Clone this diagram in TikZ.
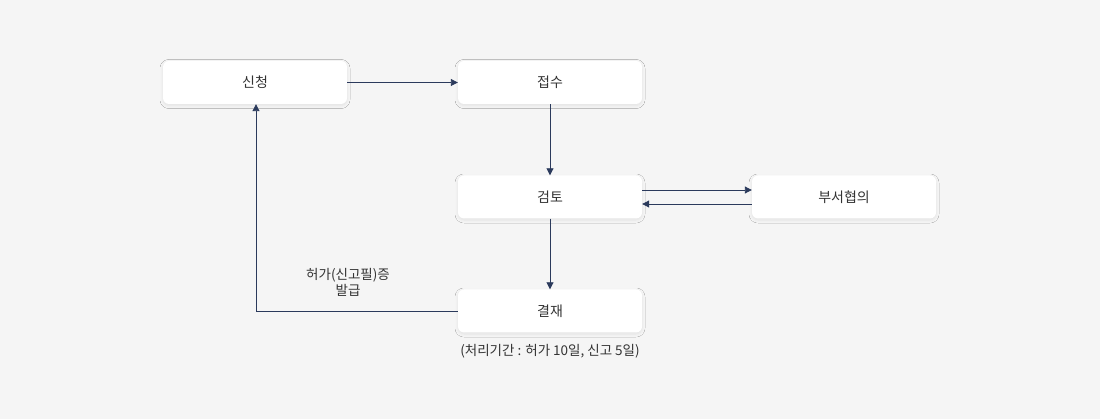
\documentclass[tikz,border=0pt]{standalone}
\usepackage{fontspec}
\setmainfont{Noto Sans CJK KR}
\usetikzlibrary{arrows.meta,shadows.blur}
\definecolor{bg}{HTML}{F5F5F5}
\definecolor{ln}{HTML}{2B3A5C}
\definecolor{tx}{HTML}{333333}
\tikzset{
 box/.style={draw=none,fill=white,rounded corners=6pt,inner sep=0pt,minimum width=184pt,minimum height=43pt,
   font=\fontsize{14pt}{16pt}\selectfont,text=tx,blur shadow={shadow blur steps=5,shadow xshift=0pt,shadow yshift=-1.5pt,shadow opacity=8,shadow blur radius=3pt}},
 arr/.style={draw=ln,line width=0.9pt,-{Triangle[length=7pt,width=7pt]}},
 lbl/.style={font=\fontsize{13.5pt}{16pt}\selectfont,text=tx,align=center}
}
\begin{document}
\begin{tikzpicture}[x=1pt,y=-1pt]
\fill[bg] (0,0) rectangle (1100,419);
\useasboundingbox (0,0) rectangle (1100,419);
\node[box] (a) at (255,82.5) {신청};
\node[box] (b) at (550,82.5) {접수};
\node[box] (c) at (550,197) {검토};
\node[box] (d) at (844,197) {부서협의};
\node[box] (e) at (550,311) {결재};
\draw[arr] (a.east) -- (b.west);
\draw[arr] (b.south) -- (c.north);
\draw[arr] ([yshift=7pt]c.east) -- ([yshift=7pt]d.west);
\draw[arr] ([yshift=-7pt]d.west) -- ([yshift=-7pt]c.east);
\draw[arr] (c.south) -- (e.north);
\coordinate (k) at (256,311);
\draw[arr] (e.west) -- (k) -- (a.south-|k);
\node[lbl] (l) at (348,282) {허가(신고필)증\\발급};
\node[lbl] (m) at (550,351) {(처리기간 : 허가 10일, 신고 5일)};
\end{tikzpicture}
\end{document}
